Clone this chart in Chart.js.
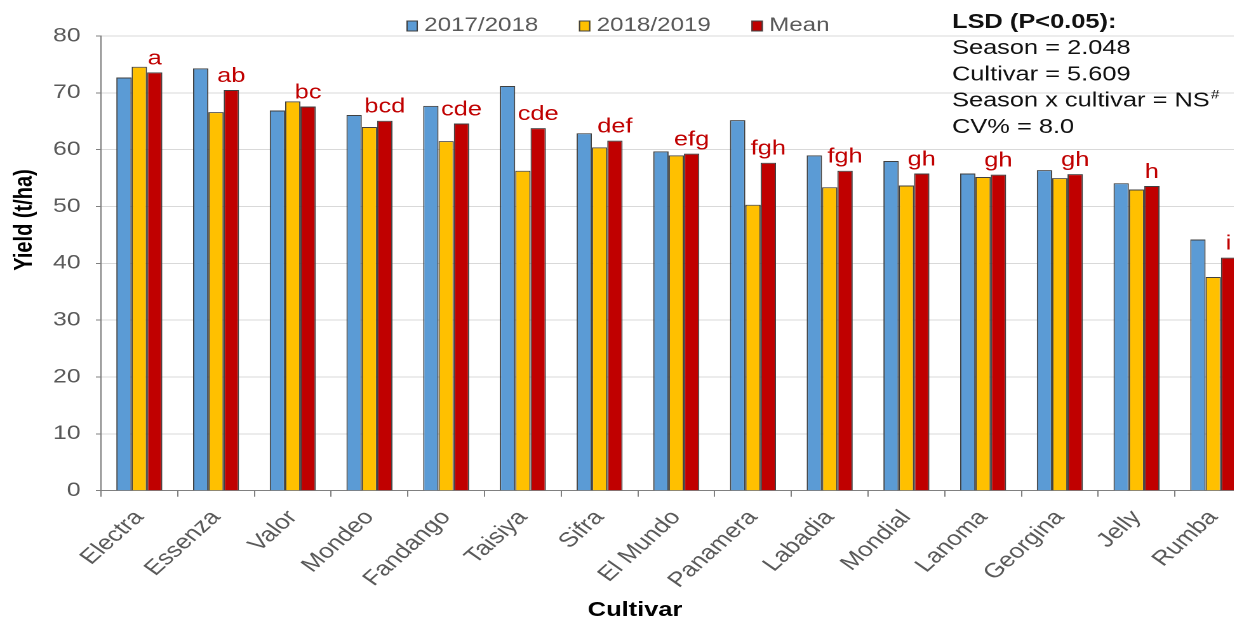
<!DOCTYPE html>
<html>
<head>
<meta charset="utf-8">
<script src="https://cdn.jsdelivr.net/npm/chart.js@4/dist/chart.umd.min.js"></script>
<style>
  html, body { margin: 0; padding: 0; background: #fff; overflow: hidden; width: 1234px; height: 619px; }
  /* the figure is laid out on a narrower canvas and widened horizontally */
  #wrap { position: absolute; left: 0; top: 0; width: 1000px; height: 619px; transform: scaleX(1.27); transform-origin: 0 0; }
  canvas { display: block; }
</style>
</head>
<body>
<div id="wrap"><canvas id="c" width="1000" height="619"></canvas></div>
<script>
// Potato cultivar yields (t/ha) over two seasons and their mean
const cultivars = ['Electra', 'Essenza', 'Valor', 'Mondeo', 'Fandango', 'Taisiya', 'Sifra', 'El Mundo',
                   'Panamera', 'Labadia', 'Mondial', 'Lanoma', 'Georgina', 'Jelly', 'Rumba'];
const season2017 = [72.7, 74.3, 66.9, 66.1, 67.7, 71.2, 62.9, 59.7, 65.2, 59.0, 58.0, 55.8, 56.4, 54.1, 44.2];
const season2018 = [74.6, 66.6, 68.5, 64.0, 61.5, 56.3, 60.4, 59.0, 50.3, 53.4, 53.7, 55.2, 55.0, 53.0, 37.6];
const meanYield  = [73.6, 70.5, 67.6, 65.1, 64.6, 63.8, 61.6, 59.3, 57.7, 56.3, 55.8, 55.6, 55.7, 53.6, 41.0];
const groupLetters = ['a', 'ab', 'bc', 'bcd', 'cde', 'cde', 'def', 'efg', 'fgh', 'fgh', 'gh', 'gh', 'gh', 'h', 'i'];
const seriesNames = ['2017/2018', '2018/2019', 'Mean'];
const lsdLines = ['LSD (P<0.05):', 'Season = 2.048', 'Cultivar = 5.609', 'Season x cultivar = NS', 'CV% = 8.0'];

const FONT = '"Liberation Sans", Arial, sans-serif';
const colors = ['#5B9BD5', '#FFC000', '#C00000'];

const decor = {
  id: 'decor',
  afterDraw(chart) {
    const ctx = chart.ctx;
    ctx.save();

    // significance letters above the mean bars
    const meanMeta = chart.getDatasetMeta(2);
    ctx.font = '20px ' + FONT;
    ctx.fillStyle = '#C00000';
    ctx.textAlign = 'center';
    ctx.textBaseline = 'alphabetic';
    meanMeta.data.forEach((bar, i) => {
      ctx.fillText(groupLetters[i], bar.x, bar.y - 8);
    });

    // legend row
    ctx.font = '19px ' + FONT;
    const gap = 5, boxW = 9, boxH = 11, spacing = 32;
    const widths = seriesNames.map(n => ctx.measureText(n).width);
    const total = widths.reduce((s, w) => s + boxW + gap + w, 0) + spacing * (seriesNames.length - 1);
    let x = 486.6 - total / 2;
    const ly = 25;
    ctx.textAlign = 'left';
    ctx.textBaseline = 'middle';
    seriesNames.forEach((n, i) => {
      ctx.fillStyle = colors[i];
      ctx.fillRect(x, ly - boxH / 2 + 1, boxW, boxH);
      ctx.strokeStyle = '#404040';
      ctx.lineWidth = 1;
      ctx.strokeRect(x + 0.5, ly - boxH / 2 + 1.5, boxW - 1, boxH - 1);
      ctx.fillStyle = '#595959';
      ctx.fillText(n, x + boxW + gap, ly + 1);
      x += boxW + gap + widths[i] + spacing;
    });

    // LSD statistics block
    ctx.fillStyle = '#111';
    ctx.textBaseline = 'alphabetic';
    const lx = 749.6;
    lsdLines.forEach((t, i) => {
      ctx.font = (i === 0 ? 'bold ' : '') + '20px ' + FONT;
      const by = 28 + i * 26.2;
      ctx.fillText(t, lx, by);
      if (t.endsWith('NS')) {
        const w = ctx.measureText(t).width;
        ctx.font = '12px ' + FONT;
        ctx.fillText('#', lx + w + 1, by - 8);
      }
    });

    // axis titles
    ctx.fillStyle = '#000';
    ctx.font = 'bold 20px ' + FONT;
    ctx.textAlign = 'center';
    ctx.textBaseline = 'alphabetic';
    ctx.fillText('Cultivar', 500, 616);

    ctx.translate(19.3, 220);
    ctx.rotate(-Math.PI / 2);
    ctx.textBaseline = 'middle';
    ctx.fillText('Yield (t/ha)', 0, 0);
    ctx.restore();
  }
};

new Chart(document.getElementById('c'), {
  type: 'bar',
  data: {
    labels: cultivars,
    datasets: [
      { label: seriesNames[0], data: season2017, backgroundColor: colors[0], borderColor: '#404040', borderWidth: 1 },
      { label: seriesNames[1], data: season2018, backgroundColor: colors[1], borderColor: '#404040', borderWidth: 1 },
      { label: seriesNames[2], data: meanYield,  backgroundColor: colors[2], borderColor: '#404040', borderWidth: 1 }
    ]
  },
  options: {
    responsive: false,
    animation: false,
    devicePixelRatio: 2,
    layout: { padding: { left: 0, right: 14.5, top: 36, bottom: 0 } },
    datasets: { bar: { categoryPercentage: 0.6, barPercentage: 1 } },
    plugins: { legend: { display: false }, tooltip: { enabled: false } },
    scales: {
      x: {
        grid: { drawOnChartArea: false, offset: true, tickLength: 6, tickColor: '#808080' },
        border: { color: '#808080' },
        ticks: { font: { size: 20.5, family: FONT }, color: '#595959', minRotation: 48.5, maxRotation: 48.5, autoSkip: false, padding: 9 },
        afterFit(s) { s.height = 128.3; }
      },
      y: {
        min: 0, max: 80,
        ticks: { stepSize: 10, font: { size: 19.5, family: FONT }, color: '#595959', padding: 12 },
        grid: { color: '#D9D9D9', tickColor: '#808080', tickLength: 4 },
        border: { color: '#808080' },
        afterFit(s) { s.width = 79.5; }
      }
    }
  },
  plugins: [decor]
});
</script>
</body>
</html>
